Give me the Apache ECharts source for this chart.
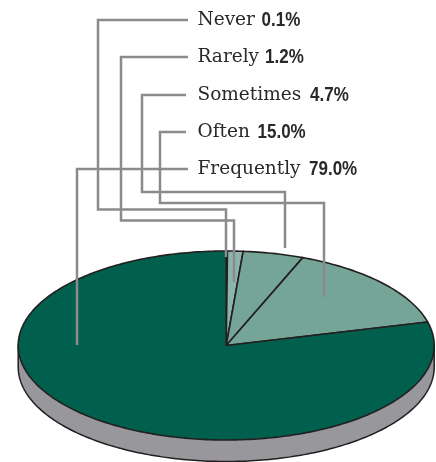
<!DOCTYPE html>
<html><head><meta charset="utf-8">
<style>html,body{margin:0;padding:0;background:#fff}#c{width:436px;height:462px}</style>
<script src="https://cdn.jsdelivr.net/npm/echarts@6/dist/echarts.min.js"></script>
</head><body><div id="c"></div>
<script>
const categories = ['Never','Rarely','Sometimes','Often','Frequently'];
const shares = [0.1,1.2,4.7,15.0,79.0];
const shareLabels = ['0.1%','1.2%','4.7%','15.0%','79.0%'];

const sliceColors = ['#7fae9f','#8ab5a8','#74a596','#74a596','#00604d'];
const INK='#231f20', LEAD='#8a8b8e', SIDE='#98989c';
const disc = {cx:226.2, cy:345.5, rx:208, ry:94.5, depth:21.5};
const labelX = 197.5, labelY = [20,57,95,132,169], valueX = [261.5,265,310,257.5,309];
const leaders = [
 [[188,20],[98,20],[98,209.5],[226,209.5],[226,257]],
 [[188,57],[121,57],[121,220.5],[234,220.5],[234,282]],
 [[186,95],[142,95],[142,192],[285,192],[285,248]],
 [[186,132],[160,132],[160,203],[324,203],[324,297]],
 [[188,169],[77,169],[77,345]]
];

const total = shares.reduce((a,b)=>a+b,0);
let acc = 0;
const sliceData = shares.map((v,i)=>{const s=acc; acc+=v; return [s/total,acc/total,i];});

function ell(t,dy){ // t: fraction clockwise from top
  const a=t*2*Math.PI;
  return [disc.cx+disc.rx*Math.sin(a), disc.cy+(dy||0)-disc.ry*Math.cos(a)];
}
function steps(a,b,dy){
  const n=Math.max(2,Math.ceil(Math.abs(b-a)*360)),p=[];
  for(let i=0;i<=n;i++)p.push(ell(a+(b-a)*i/n,dy));
  return p;
}
const chart = echarts.init(document.getElementById('c'),null,{renderer:'canvas'});
chart.setOption({
  animation:false,
  backgroundColor:'#fff',
  grid:{left:0,right:0,top:0,bottom:0},
  xAxis:{type:'value',min:0,max:436,show:false},
  yAxis:{type:'value',min:0,max:462,inverse:true,show:false},
  series:[
   {type:'custom',coordinateSystem:'cartesian2d',silent:true,z:1,data:[[0]],
    renderItem(){
      const pts=steps(0.25,0.75,disc.depth).concat([ell(0.75),ell(0.25)]);
      return {type:'polygon',shape:{points:pts},style:{fill:SIDE,stroke:INK,lineWidth:1.5}};
    }},
   {type:'custom',coordinateSystem:'cartesian2d',silent:true,z:2,data:sliceData,
    renderItem(p,api){
      const a=api.value(0),b=api.value(1),i=api.value(2);
      const pts=[[disc.cx,disc.cy]].concat(steps(a,b));
      return {type:'polygon',shape:{points:pts},style:{fill:sliceColors[i],stroke:INK,lineWidth:1.6,lineJoin:'round'}};
    }},
   {type:'custom',coordinateSystem:'cartesian2d',silent:true,z:3,data:leaders.map((_,i)=>[i]),
    renderItem(p,api){
      return {type:'polyline',shape:{points:leaders[api.value(0)]},style:{fill:null,stroke:LEAD,lineWidth:2.5,lineJoin:'miter'}};
    }},
   {type:'custom',coordinateSystem:'cartesian2d',silent:true,z:4,data:categories.map((_,i)=>[i]),
    renderItem(p,api){
      const i=api.value(0);
      return {type:'group',children:[
        {type:'text',x:labelX,y:labelY[i],style:{text:categories[i],verticalAlign:'middle',align:'left',
          fontFamily:'"DejaVu Serif"',fontSize:18.5,fill:'#2b2829'}},
        {type:'text',x:valueX[i],y:labelY[i],scaleX:0.85,style:{text:shareLabels[i],verticalAlign:'middle',align:'left',
          fontFamily:'"Liberation Sans"',fontSize:20,fontWeight:'bold',fill:'#2b2829'}}
      ]};
    }}
  ]
});
</script></body></html>
